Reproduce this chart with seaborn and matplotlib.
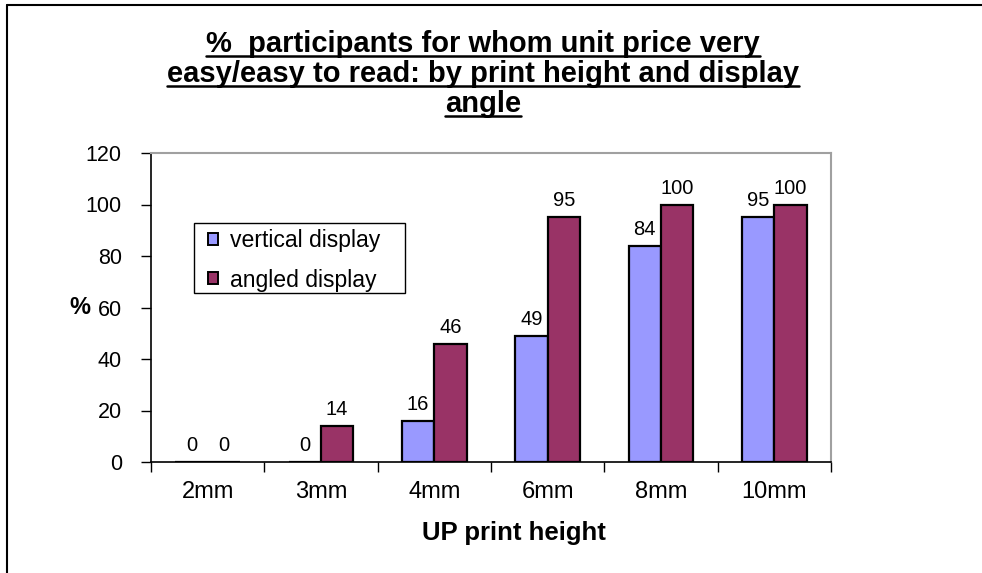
import matplotlib
matplotlib.use("Agg")
import matplotlib.pyplot as plt
import seaborn as sns
import pandas as pd
from matplotlib.lines import Line2D
from matplotlib.patches import Rectangle

categories = ["2mm", "3mm", "4mm", "6mm", "8mm", "10mm"]
vertical = [0, 0, 16, 49, 84, 95]
angled = [0, 14, 46, 95, 100, 100]
series_names = ["vertical display", "angled display"]

df = pd.DataFrame({
    "height": categories * 2,
    "pct": vertical + angled,
    "series": [series_names[0]] * len(categories) + [series_names[1]] * len(categories),
})

sns.set_theme(style="white")
plt.rcParams["font.family"] = ["Liberation Sans", "DejaVu Sans"]

W, H = 982, 573
fig = plt.figure(figsize=(W / 100, H / 100), dpi=100)
ax = fig.add_axes([151 / W, 1 - 462 / H, 680 / W, 309 / H])

sns.barplot(data=df, x="height", y="pct", hue="series", order=categories,
            hue_order=series_names, palette=["#9999FF", "#993366"],
            width=0.57, edgecolor="black", linewidth=1.6, saturation=1,
            ax=ax)

ax.set_ylim(0, 120)
ax.set_xlim(-0.5, len(categories) - 0.5)
ax.set_yticks(range(0, 121, 20))
ax.tick_params(axis="y", labelsize=15.5, length=7, width=1, color="black",
               direction="out", left=True, pad=14, labelcolor="black")
ax.tick_params(axis="x", which="major", length=0, labelsize=17, pad=14,
               labelcolor="black")
ax.set_xticks([i - 0.5 for i in range(len(categories) + 1)], minor=True)
ax.tick_params(axis="x", which="minor", length=7, width=1, color="black",
               direction="out", bottom=True)

for s in ["left", "bottom"]:
    ax.spines[s].set_color("black")
    ax.spines[s].set_linewidth(1.2)
for s in ["top", "right"]:
    ax.spines[s].set_color("#a0a0a0")
    ax.spines[s].set_linewidth(1.5)

ax.set_xlabel("UP print height", fontsize=18.5, fontweight="bold",
              color="black")
ax.xaxis.set_label_coords((514 - 151) / 680, -0.19)
ax.set_ylabel("%", fontsize=17, fontweight="bold", rotation=0,
              va="center", color="black")
ax.yaxis.set_label_coords(-0.105, 0.5)

for cont in ax.containers:
    ax.bar_label(cont, fmt="%d", padding=5, fontsize=14.5, color="black")

# legend frame drawn separately, legend itself frameless
ax.add_patch(Rectangle(((194 - 151) / 680, (462 - 293) / 309),
                       (405 - 194) / 680, (293 - 223) / 309,
                       transform=ax.transAxes, facecolor="white",
                       edgecolor="black", lw=1.0, zorder=4.5, clip_on=False))
leg = ax.legend(loc="upper left", bbox_to_anchor=((208 - 151) / 680, (462 - 229) / 309),
                borderaxespad=0, borderpad=0, frameon=False,
                fontsize=16.6, handlelength=0.42, handleheight=0.42,
                handletextpad=0.55, labelspacing=0.72, title=None)
leg.set_zorder(5)
for h in leg.legend_handles:
    h.set_edgecolor("black")
    h.set_linewidth(1.4)
for t in leg.get_texts():
    t.set_color("black")

# Title, three centered underlined lines
title_lines = ["%  participants for whom unit price very",
               "easy/easy to read: by print height and display",
               "angle"]
cx = 483 / W
title_y = [44, 74, 104]
texts = []
for line, yp in zip(title_lines, title_y):
    t = fig.text(cx, 1 - yp / H, line, ha="center", va="center",
                 fontsize=21, fontweight="bold", color="black")
    texts.append(t)

fig.canvas.draw()
r = fig.canvas.get_renderer()
for t in texts:
    bb = t.get_window_extent(r)
    yline = bb.y0 + 2.5
    fig.add_artist(Line2D([bb.x0 / W, bb.x1 / W], [yline / H, yline / H],
                          transform=fig.transFigure, color="black", lw=1.8))

# figure border (top and left)
fig.add_artist(Line2D([7 / W, 1], [1 - 5 / H, 1 - 5 / H],
                      transform=fig.transFigure, color="black", lw=1.5))
fig.add_artist(Line2D([7 / W, 7 / W], [0, 1 - 5 / H],
                      transform=fig.transFigure, color="black", lw=1.5))

fig.savefig("out.png", dpi=100)
